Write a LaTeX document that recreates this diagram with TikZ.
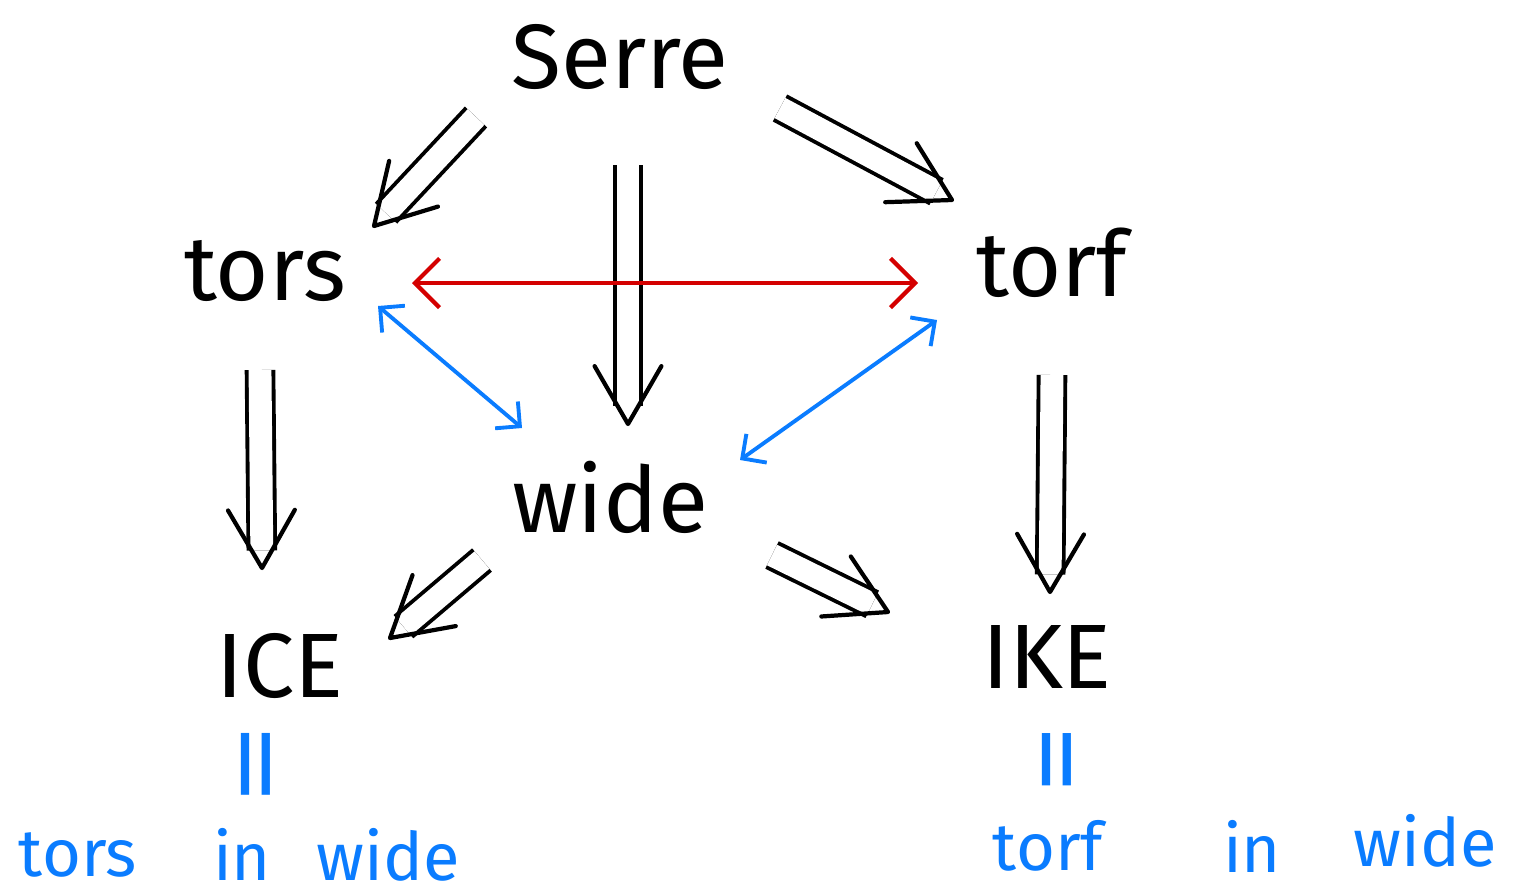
\documentclass[tikz,border=0pt]{standalone}
\usepackage{fontspec}
\setmainfont{Fira Sans}
\usetikzlibrary{arrows.meta,calc}
\definecolor{hblue}{HTML}{0A7CFF}
\definecolor{hred}{HTML}{D40000}
\tikzset{
  lbl/.style={anchor=base, inner sep=0pt, font=\fontsize{26}{30}\selectfont},
  blbl/.style={anchor=base, inner sep=0pt, text=hblue, font=\fontsize{19}{22}\selectfont},
  eqs/.style={inner sep=0pt, text=hblue, rotate=90, font=\fontsize{36}{40}\selectfont},
  dblline/.style={double, line width=1.1pt, double distance=6.5pt, shorten >=5pt},
  headline/.style={line width=1.2pt, line join=round, line cap=round},
  redarr/.style={hred, line width=1.2pt, {Straight Barb[length=7pt,width=14pt]}-{Straight Barb[length=7pt,width=14pt]}},
  bluearr/.style={hblue, line width=1.1pt, {Straight Barb[length=5pt,width=10pt]}-{Straight Barb[length=5pt,width=10pt]}}
}
\newcommand\dblarrowcmd[2]{%
  \draw[dblline] (#1) -- (#2);
  \draw[headline] ($(#2)!19pt!30:(#1)$) -- (#2) -- ($(#2)!19pt!-30:(#1)$);}
\begin{document}
\begin{tikzpicture}[x=0.01cm, y=-0.01cm]
\useasboundingbox (0,0) rectangle (1516,893);
% main nodes
\node[lbl] (serre) at (620,88) {Serre};
\node[lbl] (tors) at (265,300) {tors};
\node[lbl] (torf) at (1052,296) {torf};
\node[lbl] (wide) at (610,532) {wide};
\node[lbl] (ice) at (280,697) {ICE};
\node[lbl] (ike) at (1047,688) {IKE};
% equalities
\node[eqs] (eq1) at (266,764) {\scalebox{1.3}[0.85]{=}};
\node[eqs] (eq2) at (1067,760) {\scalebox{1.1}[0.85]{=}};
% bottom texts
\node[blbl] (b1) at (78,876) {tors};
\node[blbl] (b2) at (242,880) {in};
\node[blbl] (b3) at (388,880) {wide};
\node[blbl] (b4) at (1048,870) {torf};
\node[blbl] (b5) at (1252,872) {in};
\node[blbl] (b6) at (1425,866) {wide};
% arrow end points
\coordinate (st1) at (476,117);
\coordinate (st2) at (374,226);
\coordinate (sw1) at (628,165);
\coordinate (sw2) at (628,424);
\coordinate (sf1) at (780,108);
\coordinate (sf2) at (952,200);
\coordinate (ti1) at (260,370);
\coordinate (ti2) at (262,568);
\coordinate (fk1) at (1052,375);
\coordinate (fk2) at (1050,592);
\coordinate (wi1) at (482,560);
\coordinate (wi2) at (390,638);
\coordinate (wk1) at (772,555);
\coordinate (wk2) at (888,612);
\coordinate (r1) at (412,283);
\coordinate (r2) at (918,283);
\coordinate (bl1) at (378,306);
\coordinate (bl2) at (522,428);
\coordinate (br1) at (937,320);
\coordinate (br2) at (740,460);
% double arrows
\dblarrowcmd{st1}{st2}
\dblarrowcmd{sw1}{sw2}
\dblarrowcmd{sf1}{sf2}
\dblarrowcmd{ti1}{ti2}
\dblarrowcmd{fk1}{fk2}
\dblarrowcmd{wi1}{wi2}
\dblarrowcmd{wk1}{wk2}
% red and blue arrows
\draw[redarr] (r1) -- (r2);
\draw[bluearr] (bl1) -- (bl2);
\draw[bluearr] (br1) -- (br2);
\end{tikzpicture}
\end{document}
